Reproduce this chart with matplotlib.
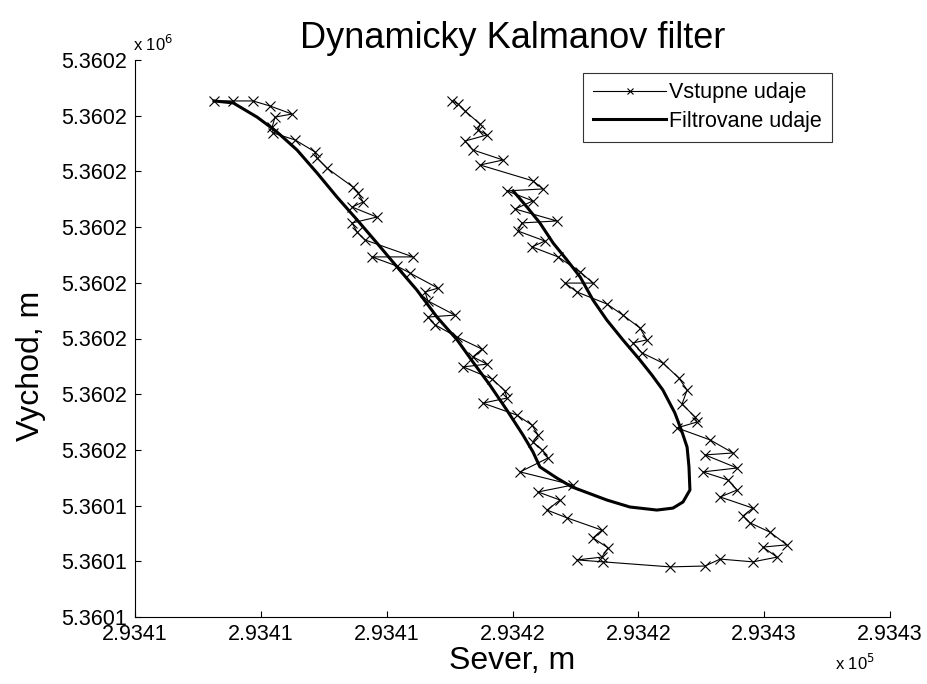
import numpy as np
import matplotlib
matplotlib.use("Agg")
import matplotlib.pyplot as plt

plt.rcParams['font.family'] = ['Liberation Sans', 'DejaVu Sans']

# vstupne udaje (namerane polohy)
sever_in = [293408.51, 293409.12, 293409.75, 293410.29, 293410.99, 293410.45, 293410.36, 293410.39,
            293411.09, 293411.72, 293411.79, 293412.10, 293412.93, 293413.09, 293413.25, 293412.90,
            293413.69, 293412.90, 293413.06, 293413.31, 293414.84, 293413.53, 293414.33, 293414.74,
            293415.63, 293415.22, 293415.31, 293416.17, 293415.31, 293415.54, 293416.24, 293417.03,
            293416.74, 293417.19, 293416.43, 293417.35, 293417.76, 293417.82, 293417.06, 293418.14,
            293418.62, 293418.81, 293418.65, 293418.94, 293419.13, 293418.24, 293419.92, 293418.81,
            293419.51, 293419.10, 293419.73, 293420.84, 293420.56, 293421.04, 293420.84, 293420.05,
            293420.88, 293423.01, 293424.12, 293424.60, 293425.64, 293426.41, 293425.96, 293426.72,
            293426.18, 293425.55, 293425.33, 293425.64, 293424.60, 293425.14, 293424.85, 293424.05,
            293425.14, 293424.12, 293425.01, 293424.28, 293423.23, 293423.86, 293423.80, 293423.39,
            293423.55, 293423.29, 293422.78, 293422.12, 293421.83, 293422.27, 293422.05, 293421.51,
            293421.00, 293420.05, 293419.67, 293420.56, 293420.15, 293419.45, 293418.62, 293419.03,
            293418.17, 293418.30, 293419.41, 293418.08, 293418.65, 293417.82, 293418.97, 293418.65,
            293416.97, 293417.70, 293416.74, 293416.49, 293417.19, 293416.90, 293416.97, 293416.49,
            293416.27, 293416.08]
vychod_in = [5360164.53, 5360164.53, 5360164.53, 5360164.35, 5360164.06, 5360163.95, 5360163.59, 5360163.38,
             5360163.13, 5360162.70, 5360162.48, 5360162.12, 5360161.44, 5360161.23, 5360160.90, 5360160.72,
             5360160.36, 5360160.15, 5360159.82, 5360159.54, 5360158.93, 5360158.93, 5360158.60, 5360158.35,
             5360157.81, 5360157.67, 5360157.35, 5360156.84, 5360156.77, 5360156.49, 5360156.05, 5360155.62,
             5360155.34, 5360155.08, 5360154.98, 5360154.55, 5360154.12, 5360153.86, 5360153.68, 5360153.25,
             5360152.89, 5360152.54, 5360152.28, 5360152.00, 5360151.71, 5360151.21, 5360150.74, 5360150.49,
             5360150.20, 5360149.84, 5360149.56, 5360149.12, 5360148.84, 5360148.48, 5360148.15, 5360148.05,
             5360147.98, 5360147.80, 5360147.83, 5360148.08, 5360147.98, 5360148.15, 5360148.51, 5360148.59,
             5360149.05, 5360149.38, 5360149.63, 5360149.91, 5360150.31, 5360150.56, 5360150.92, 5360151.21,
             5360151.35, 5360151.82, 5360151.89, 5360152.36, 5360152.79, 5360153.00, 5360153.18, 5360153.65,
             5360154.15, 5360154.58, 5360155.12, 5360155.48, 5360155.84, 5360155.95, 5360156.38, 5360156.84,
             5360157.24, 5360157.67, 5360157.99, 5360157.99, 5360158.39, 5360158.93, 5360159.29, 5360159.50,
             5360159.86, 5360160.15, 5360160.22, 5360160.65, 5360160.94, 5360161.30, 5360161.37, 5360161.66,
             5360162.23, 5360162.41, 5360162.77, 5360163.09, 5360163.31, 5360163.49, 5360163.70, 5360164.17,
             5360164.42, 5360164.53]

# filtrovane udaje (vystup Kalmanovho filtra)
sever_kf = [293408.51, 293409.12, 293409.88, 293410.51, 293411.15, 293411.79, 293412.42, 293413.06,
            293413.69, 293414.33, 293414.96, 293415.60, 293416.24, 293416.74, 293417.28, 293417.82,
            293418.33, 293418.65, 293418.87, 293419.41, 293419.89, 293421.00, 293421.73, 293422.59,
            293423.10, 293423.42, 293423.64, 293423.61, 293423.55, 293423.39, 293423.16, 293422.78,
            293422.43, 293422.05, 293421.51, 293421.00, 293420.56, 293420.15, 293419.73, 293419.29,
            293418.87, 293418.46, 293418.02]
vychod_kf = [5360164.53, 5360164.46, 5360163.95, 5360163.42, 5360162.77, 5360161.94, 5360161.08, 5360160.26,
             5360159.43, 5360158.57, 5360157.74, 5360156.77, 5360155.95, 5360155.16, 5360154.33, 5360153.43,
             5360152.54, 5360151.93, 5360151.39, 5360150.99, 5360150.67, 5360150.20, 5360149.95, 5360149.84,
             5360149.91, 5360150.13, 5360150.56, 5360151.39, 5360152.10, 5360152.64, 5360153.33, 5360154.15,
             5360154.69, 5360155.23, 5360155.95, 5360156.66, 5360157.38, 5360158.21, 5360158.82, 5360159.43,
             5360160.15, 5360160.72, 5360161.30]

x_ticks = [293406, 293410, 293414, 293418, 293422, 293426, 293430]
x_labels = ['2.9341', '2.9341', '2.9341', '2.9342', '2.9342', '2.9343', '2.9343']
y_ticks = [5360146, 5360148, 5360150, 5360152, 5360154, 5360156, 5360158, 5360160, 5360162, 5360164, 5360166]
y_labels = ['5.3601', '5.3601', '5.3601', '5.3602', '5.3602', '5.3602', '5.3602', '5.3602', '5.3602', '5.3602', '5.3602']

fig = plt.figure(figsize=(9.27, 6.84), dpi=100)
ax = fig.add_axes([135 / 927, 67 / 684, 755 / 927, 557 / 684])

ax.plot(sever_in, vychod_in, '-x', color='black', lw=0.8, ms=7, mew=0.8, label='Vstupne udaje')
ax.plot(sever_kf, vychod_kf, '-', color='black', lw=2.2, label='Filtrovane udaje')

ax.set_xlim(x_ticks[0], x_ticks[-1])
ax.set_ylim(y_ticks[0], y_ticks[-1])
ax.set_xticks(x_ticks)
ax.set_xticklabels(x_labels)
ax.set_yticks(y_ticks)
ax.set_yticklabels(y_labels)
ax.tick_params(direction='in', length=4, width=0.8, labelsize=15.5)
ax.tick_params(axis='x', pad=5)
ax.tick_params(axis='y', pad=6)
ax.spines['top'].set_visible(False)
ax.spines['right'].set_visible(False)

ax.set_title('Dynamicky Kalmanov filter', fontsize=26, pad=9)
ax.set_xlabel('Sever, m', fontsize=23, labelpad=1)
ax.set_ylabel('Vychod, m', fontsize=23, va='center')
ax.yaxis.set_label_coords(-0.138, 0.45)

ax.text(-0.003, 1.01, r'x 10$^6$', transform=ax.transAxes, fontsize=12, ha='left', va='bottom')
ax.text(0.927, -0.064, r'x 10$^5$', transform=ax.transAxes, fontsize=12, ha='left', va='top')

leg = ax.legend(loc='upper right', bbox_to_anchor=(0.923, 0.977), fontsize=15.5, frameon=True,
                fancybox=False, edgecolor='black', handlelength=3.4, borderaxespad=0,
                borderpad=0.45, labelspacing=0.35, handletextpad=0.15, markerscale=0.7)
leg.get_frame().set_linewidth(0.8)

fig.savefig('out.png', dpi=100)
